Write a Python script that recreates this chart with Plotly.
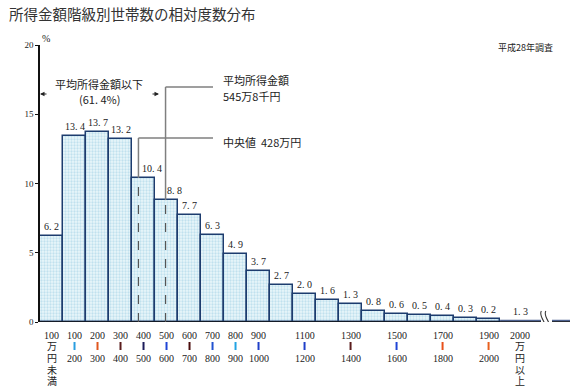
import plotly.graph_objects as go

# ---------------- data ----------------
title_text = "所得金額階級別世帯数の相対度数分布"
survey_text = "平成28年調査"
bin_lower = [0, 100, 200, 300, 400, 500, 600, 700, 800, 900,
             1000, 1100, 1200, 1300, 1400, 1500, 1600, 1700, 1800, 1900]
shares = [6.2, 13.4, 13.7, 13.2, 10.4, 8.8, 7.7, 6.3, 4.9, 3.7,
          2.7, 2.0, 1.6, 1.3, 0.8, 0.6, 0.5, 0.4, 0.3, 0.2]
top_class_lower = 2000
top_share = 1.3          # 2000万円以上
class_width = 100
mean_income = 545.8      # 万円
median_income = 428      # 万円
below_mean_pct = 61.4

# x-axis class labels (lower | upper), shown only for some classes
labelled_lower = [100, 200, 300, 400, 500, 600, 700, 800, 900, 1100, 1300, 1500, 1700, 1900]
first_label = ["100", "万", "円", "未", "満"]
last_label = ["2000", "万", "円", "以", "上"]
mark_colors = ["#2a9ee0", "#e0561e", "#5a1c1c", "#1c1c5a", "#1f45d6", "#4a0c0c", "#2152d0",
               "#22a3e3", "#1f3fc8", "#1f3fc8", "#5a1c1c", "#1f45d6", "#e8501a", "#e8601e"]

# ---------------- layout constants ----------------
W, H = 583, 390
L, R, T, B = 40, 13, 45, 68
X_MAX = 2304
Y_MAX = 20
plot_h = H - T - B
px_per_x = (W - L - R) / X_MAX
px_per_y = plot_h / Y_MAX

def paper_y(py):
    return (H - B - py) / plot_h

def data_x(px):
    return (px - L) / px_per_x

def data_y(py):
    return (H - B - py) / px_per_y

def fmt(v):
    return f"{v:.1f}".replace(".", ". ")

serif = "Liberation Serif, Noto Sans CJK JP, serif"
jp = "Noto Sans CJK JP, sans-serif"
edge = "#1d3c6e"
grey = "#7f7f7f"

centers = [lo + class_width / 2 for lo in bin_lower]

fig = go.Figure()
fig.add_trace(go.Bar(
    x=centers, y=shares, width=class_width,
    marker=dict(color="#e2f2f8",
                line=dict(color=edge, width=1.5),
                pattern=dict(shape=".", fgcolor="#96cbe1", bgcolor="#eaf6fa",
                             size=3, solidity=0.45)),
    hoverinfo="skip", showlegend=False,
))

annotations = []
shapes = []

# value labels
label_xshift = {4: 8, 5: 8}
for i, (c, v) in enumerate(zip(centers, shares)):
    annotations.append(dict(x=c, y=v, text=fmt(v),
                            showarrow=False, yanchor="bottom", yshift=2,
                            xshift=label_xshift.get(i, 0),
                            font=dict(family=serif, size=10, color="#222")))
top_center = data_x(520)
annotations.append(dict(x=top_center, y=0, text=fmt(top_share),
                        showarrow=False, yanchor="bottom", yshift=3,
                        font=dict(family=serif, size=10, color="#222")))

# flat representation of the open-ended top class, with axis break
break_l, break_r = data_x(541), data_x(552)
flat_y = 0.09
for x0, x1 in [(top_class_lower, break_l), (break_r, X_MAX)]:
    shapes.append(dict(type="line", x0=x0, x1=x1, y0=flat_y, y1=flat_y,
                       line=dict(color="#4d6290", width=2), layer="above"))
for x0, x1 in [(0, break_l), (break_r, X_MAX)]:
    shapes.append(dict(type="line", x0=x0, x1=x1, y0=0, y1=0,
                       line=dict(color="#111", width=1.5), layer="above"))
y_top, y_bot = data_y(311), data_y(331)
y_a, y_b = data_y(316), data_y(326)
dx = data_x(46) - data_x(40)
for bx in [data_x(543.5), data_x(548)]:
    shapes.append(dict(type="path",
                       path=f"M {bx-dx*0.35},{y_top} C {bx-dx},{y_a} {bx+dx},{y_b} {bx+dx*0.35},{y_bot}",
                       line=dict(color="#333", width=1.1), layer="above"))

# median and mean lines
for val, top_line in [(median_income, data_y(138)), (mean_income, data_y(87))]:
    bar_h = shares[int(val // class_width)]
    shapes.append(dict(type="line", x0=val, x1=val, y0=0, y1=bar_h,
                       line=dict(color="#555", width=1.2, dash="dash"), layer="above"))
    shapes.append(dict(type="line", x0=val, x1=val, y0=bar_h, y1=top_line,
                       line=dict(color=grey, width=1.5), layer="above"))
    shapes.append(dict(type="line", x0=val, x1=data_x(213), y0=top_line, y1=top_line,
                       line=dict(color=grey, width=1.5), layer="above"))

txt_x = data_x(221)
mean_man = int(mean_income)
mean_sen = round((mean_income - mean_man) * 10)
annotations += [
    dict(x=txt_x, y=data_y(80), text="平均所得金額", xanchor="left", showarrow=False,
         font=dict(family=jp, size=11, color="#222")),
    dict(x=txt_x, y=data_y(96), text=f"{mean_man}万{mean_sen}千円", xanchor="left", showarrow=False,
         font=dict(family=jp, size=11, color="#222")),
    dict(x=txt_x, y=data_y(142), text=f"中央値  {median_income}万円", xanchor="left", showarrow=False,
         font=dict(family=jp, size=11, color="#222")),
    dict(x=data_x(99), y=data_y(84), text="平均所得金額以下", showarrow=False,
         font=dict(family=jp, size=11, color="#222")),
    dict(x=data_x(99), y=data_y(99), text=f"({fmt(below_mean_pct)}%)", showarrow=False,
         font=dict(family=jp, size=11, color="#222")),
]
arrow_y = data_y(94)
annotations.append(dict(x=0, y=arrow_y, ax=data_x(48), ay=arrow_y, axref="x", ayref="y",
                        text="", showarrow=True, arrowhead=2, arrowsize=0.9,
                        arrowwidth=1, arrowcolor="#222"))
annotations.append(dict(x=data_x(159), y=arrow_y, ax=data_x(151), ay=arrow_y, axref="x", ayref="y",
                        text="", showarrow=True, arrowhead=2, arrowsize=0.9,
                        arrowwidth=1, arrowcolor="#222"))

# x class labels
rows_py = [335, 346, 358, 370, 381]
def stacked(xc, lines):
    for ln, py in zip(lines, rows_py):
        annotations.append(dict(x=xc, y=paper_y(py), yref="paper", yanchor="middle", text=ln,
                                showarrow=False, font=dict(family=serif, size=10, color="#222")))
stacked(centers[0], first_label)
stacked(top_center, last_label)
for lo, col in zip(labelled_lower, mark_colors):
    xc = lo + class_width / 2
    annotations.append(dict(x=xc, y=paper_y(rows_py[0]), yref="paper", yanchor="middle",
                            text=str(lo), showarrow=False,
                            font=dict(family=serif, size=10, color="#222")))
    annotations.append(dict(x=xc, y=paper_y(rows_py[2]), yref="paper", yanchor="middle",
                            text=str(lo + class_width), showarrow=False,
                            font=dict(family=serif, size=10, color="#222")))
    shapes.append(dict(type="line", x0=xc, x1=xc, yref="paper",
                       y0=paper_y(rows_py[1] - 4), y1=paper_y(rows_py[1] + 4),
                       line=dict(color=col, width=2)))

# percent sign and survey note
annotations.append(dict(x=0, y=paper_y(38), xref="paper", yref="paper", text="%",
                        yanchor="middle", showarrow=False,
                        font=dict(family=serif, size=10, color="#222")))
annotations.append(dict(x=(555 - L) / (W - L - R), y=paper_y(47), xref="paper", yref="paper",
                        text=survey_text, xanchor="right", yanchor="middle", showarrow=False,
                        font=dict(family=jp, size=9, color="#222")))

fig.update_layout(
    width=W, height=H,
    margin=dict(l=L, r=R, t=T, b=B),
    paper_bgcolor="white", plot_bgcolor="white",
    title=dict(text=title_text, x=9 / W, xanchor="left", y=1 - 15 / H, yanchor="middle",
               font=dict(family=jp, size=14.5, color="#333")),
    xaxis=dict(range=[0, X_MAX], visible=False, fixedrange=True),
    yaxis=dict(range=[0, Y_MAX], tickvals=[0, 5, 10, 15, 20], showgrid=False, zeroline=False,
               showline=True, linecolor="#111", linewidth=1.5, ticks="outside", ticklen=3,
               tickcolor="#111", tickfont=dict(family=serif, size=9, color="#222"),
               fixedrange=True),
    bargap=0,
    annotations=annotations,
    shapes=shapes,
)

fig.write_html("out.html", config={"displayModeBar": False},
               post_script="document.body.style.margin='0';")
